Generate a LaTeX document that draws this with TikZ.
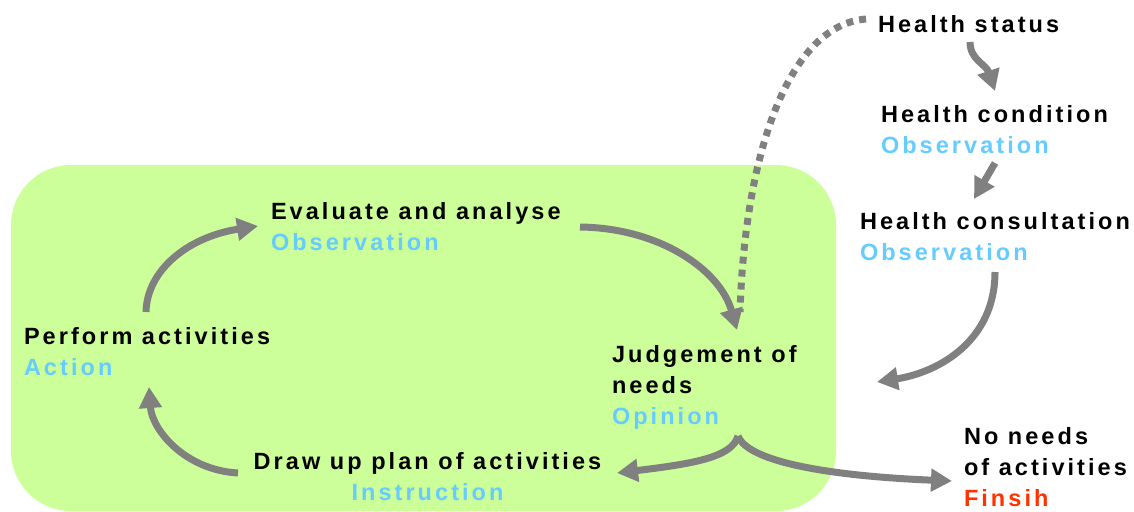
\documentclass[tikz,border=0pt]{standalone}
\usepackage{fontspec}
\setmainfont{Liberation Sans}[LetterSpace=13]
\usetikzlibrary{arrows.meta}
\definecolor{boxgreen}{HTML}{CCFF99}
\definecolor{flowgray}{HTML}{808080}
\definecolor{rolecyan}{HTML}{66CCFF}
\definecolor{endred}{HTML}{FF3300}
\newcommand{\role}[1]{\textcolor{rolecyan}{#1}}
\tikzset{
  lbl/.style={font=\fontsize{23.5}{31}\selectfont\bfseries, inner sep=0pt, outer sep=0pt,
              anchor=north west, align=left},
  flow/.style={draw=flowgray, line width=7pt, -{Triangle[length=21pt,width=22pt]}},
  hint/.style={draw=flowgray, line width=7pt, dash pattern=on 7pt off 6pt},
}
\begin{document}
\begin{tikzpicture}[x=1pt, y=-1pt]
\useasboundingbox (0,0) rectangle (1134,511);

% care cycle area
\fill[boxgreen, rounded corners=60pt] (11,165) rectangle (836,511);

% labels
\node[lbl] (status)    at (878,15)  {Health status};
\node[lbl] (condition) at (881,105) {Health condition\\\role{Observation}};
\node[lbl] (consult)   at (860,212) {Health consultation\\\role{Observation}};
\node[lbl] (evaluate)  at (271,202) {Evaluate and analyse\\\role{Observation}};
\node[lbl] (perform)   at (24,327)  {Perform activities\\\role{Action}};
\node[lbl] (judge)     at (612,345) {Judgement of\\needs\\\role{Opinion}};
\node[lbl, anchor=north, align=center] (drawup) at (427.5,452)
      {Draw up plan of activities\\\role{Instruction}};
\node[lbl] (noneeds)   at (964,427) {No needs\\of activities\\\textcolor{endred}{Finsih}};

\coordinate (intake) at (877,382);

% dotted link from health status into the cycle
\draw[hint] ([xshift=-12pt,yshift=-4pt]status.north west)
  .. controls (790,25) and (745,150) .. ([xshift=128pt,yshift=33pt]judge.north west);

% right-hand chain
\draw[flow] ([xshift=92pt,yshift=-27pt]status.north west)
  .. controls (970,60) and (986,64) .. ([xshift=114pt,yshift=14pt]condition.north west);
\draw[flow] ([xshift=114pt,yshift=-58pt]condition.north west)
  -- ([xshift=114pt,yshift=13pt]consult.north west);
\draw[flow] ([xshift=135pt,yshift=-60pt]consult.north west)
  .. controls (995,340) and (940,372) .. (intake);

% cycle
\draw[flow] ([xshift=122pt,yshift=15pt]perform.north west)
  .. controls (147,270) and (188,237) .. ([xshift=-13pt,yshift=-24pt]evaluate.north west);
\draw[flow] ([xshift=309pt,yshift=-25pt]evaluate.north west)
  .. controls (660,228) and (720,270) .. ([xshift=125pt,yshift=15pt]judge.north west);
\draw[flow] ([xshift=126pt,yshift=-91pt]judge.north west)
  .. controls (732,458) and (690,464) .. ([xshift=189.5pt,yshift=-21pt]drawup.north);
\draw[flow] ([xshift=126pt,yshift=-91pt]judge.north west)
  .. controls (748,462) and (830,476) .. ([xshift=-12pt,yshift=-54pt]noneeds.north west);
\draw[flow] ([xshift=-189.5pt,yshift=-21pt]drawup.north)
  .. controls (185,470) and (152,430) .. ([xshift=125pt,yshift=-60pt]perform.north west);
\end{tikzpicture}
\end{document}
